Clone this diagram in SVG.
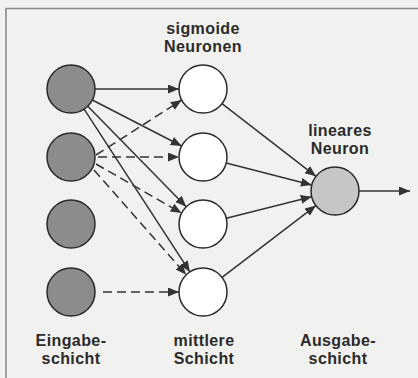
<svg xmlns="http://www.w3.org/2000/svg" width="418" height="378" viewBox="0 0 418 378">
<style>
  .bg { fill: #f1f1f0; }
  .frame { stroke: #8a8a8a; stroke-width: 1.6; fill: none; }
  .node { stroke: #2a2a2a; stroke-width: 1.5; }
  .in { fill: #8c8c8c; }
  .hid { fill: #ffffff; }
  .out { fill: #c6c6c6; }
  .edge { stroke: #333333; stroke-width: 1.5; fill: none; marker-end: url(#ah); }
  .dash { stroke-dasharray: 9 5; }
  .lbl { font-family: "Liberation Sans", Arial, sans-serif; font-weight: bold; font-size: 16px; letter-spacing: 0.4px; fill: #2b2b2b; text-anchor: middle; }
</style>
<defs>
  <marker id="ah" markerUnits="userSpaceOnUse" markerWidth="12" markerHeight="10" refX="11" refY="4.5" orient="auto">
    <path d="M0,0 L11,4.5 L0,9 z" fill="#333333"/>
  </marker>
</defs>
<rect class="bg" x="0" y="0" width="418" height="378"/>
<path class="frame" d="M6,378 L6,8.5 L418,8.5"/>

<g id="connectors">
  <line class="edge" x1="95" y1="89" x2="179" y2="89"/>
  <line class="edge" x1="92.3" y1="100" x2="181.7" y2="146"/>
  <line class="edge" x1="87.8" y1="106.2" x2="186.2" y2="206.8"/>
  <line class="edge" x1="84.1" y1="109.1" x2="189.9" y2="271.9"/>

  <line class="edge dash" x1="96" y1="155" x2="181.7" y2="100"/>
  <line class="edge dash" x1="98" y1="157" x2="179" y2="157"/>
  <line class="edge dash" x1="96" y1="164" x2="181.6" y2="213.1"/>
  <line class="edge dash" x1="94" y1="170" x2="186.2" y2="274.8"/>

  <line class="edge dash" x1="103" y1="292" x2="179" y2="292"/>

  <line class="edge" x1="222" y1="103.7" x2="316" y2="176.3"/>
  <line class="edge" x1="226.2" y1="163" x2="311.8" y2="185"/>
  <line class="edge" x1="226.3" y1="218.2" x2="311.7" y2="196.8"/>
  <line class="edge" x1="222.1" y1="277.4" x2="315.9" y2="205.6"/>

  <line class="edge" x1="359" y1="191" x2="410" y2="191"/>
</g>

<g id="input1"><circle class="node in" cx="71" cy="89" r="24"/></g>
<g id="input2"><circle class="node in" cx="71" cy="157" r="24"/></g>
<g id="input3"><circle class="node in" cx="71" cy="224" r="24"/></g>
<g id="input4"><circle class="node in" cx="71" cy="292" r="24"/></g>

<g id="hidden1"><circle class="node hid" cx="203" cy="89" r="24"/></g>
<g id="hidden2"><circle class="node hid" cx="203" cy="157" r="24"/></g>
<g id="hidden3"><circle class="node hid" cx="203" cy="224" r="24"/></g>
<g id="hidden4"><circle class="node hid" cx="203" cy="292" r="24"/></g>

<g id="output"><circle class="node out" cx="335" cy="191" r="24"/></g>

<g id="labels">
  <text class="lbl" x="203" y="34">sigmoide</text>
  <text class="lbl" x="203" y="52">Neuronen</text>
  <text class="lbl" x="340" y="136">lineares</text>
  <text class="lbl" x="340" y="154">Neuron</text>
  <text class="lbl" x="71" y="346">Eingabe-</text>
  <text class="lbl" x="71" y="364">schicht</text>
  <text class="lbl" x="204" y="346">mittlere</text>
  <text class="lbl" x="204" y="364">Schicht</text>
  <text class="lbl" x="338" y="346">Ausgabe-</text>
  <text class="lbl" x="338" y="364">schicht</text>
</g>
</svg>
